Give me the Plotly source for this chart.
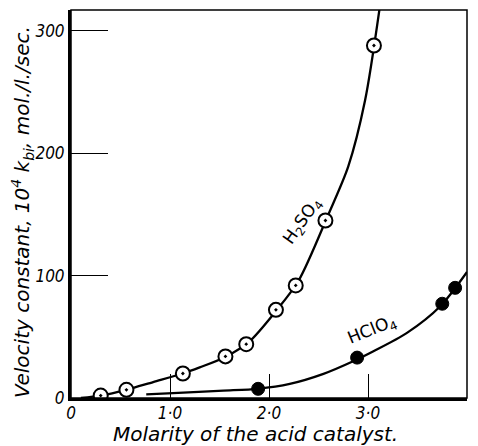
import plotly.graph_objects as go

# Data points
h2so4_x = [0.30, 0.56, 1.13, 1.56, 1.77, 2.07, 2.27, 2.57, 3.06]
h2so4_y = [2, 6.7, 20, 34, 44, 72, 92, 145, 288]

hclo4_x = [1.89, 2.89, 3.75, 3.88]
hclo4_y = [7.5, 33, 77, 90]

# Drawn smooth curves
h2so4_curve_x = [0.1, 0.3, 0.56, 0.83, 1.13, 1.3, 1.56, 1.8, 2.07, 2.3, 2.6, 2.8, 2.97, 3.12]
h2so4_curve_y = [0, 2, 6.7, 13, 20, 25, 33.5, 46, 71, 96, 150, 189, 243, 320]

hclo4_curve_x = [0.76, 1.03, 1.54, 1.885, 2.21, 2.55, 2.85, 3.05, 3.39, 3.73, 4.0]
hclo4_curve_y = [3, 4, 6, 7.5, 11.5, 19.7, 30, 38, 53, 75, 103]

x_tickvals = [0, 1, 2, 3, 4]
x_ticktext = ["0", "1·0", "2·0", "3·0", "4·0"]
y_tickvals = [0, 100, 200, 300]
y_ticktext = ["0", "100", "200", "300"]

FONT = "DejaVu Sans"
TICKFONT = "DejaVu Sans Condensed, DejaVu Sans"

# the page body adds an 8px offset; the figure is sized to compensate
OFF = 8
W, H = 478 - OFF, 446 - OFF
L, R, T, B = 71 - OFF, 11, 10 - OFF, 48
PW, PH = W - L - R, H - T - B


def px_x(win_x):
    return (win_x - OFF - L) / PW


def px_y(win_y):
    return (H - B - (win_y - OFF)) / PH


fig = go.Figure()
fig.add_trace(go.Scatter(x=h2so4_curve_x, y=h2so4_curve_y, mode="lines",
                         line=dict(color="black", width=2.3, shape="spline", smoothing=0.8),
                         hoverinfo="skip"))
fig.add_trace(go.Scatter(x=hclo4_curve_x, y=hclo4_curve_y, mode="lines",
                         line=dict(color="black", width=2.3, shape="spline", smoothing=0.8),
                         hoverinfo="skip"))
fig.add_trace(go.Scatter(x=h2so4_x, y=h2so4_y, mode="markers",
                         marker=dict(symbol="circle-dot", size=14, color="white",
                                     line=dict(color="black", width=2))))
fig.add_trace(go.Scatter(x=hclo4_x, y=hclo4_y, mode="markers",
                         marker=dict(symbol="circle", size=13, color="black",
                                     line=dict(color="black", width=1))))

fig.add_annotation(x=2.34, y=144, text="H<sub>2</sub>SO<sub>4</sub>", showarrow=False,
                   textangle=-55, font=dict(family=FONT, size=17, color="black"))
fig.add_annotation(x=3.04, y=55, text="HClO<sub>4</sub>", showarrow=False,
                   textangle=-22, font=dict(family=FONT, size=17, color="black"))

# axis titles
fig.add_annotation(xref="paper", yref="paper", x=px_x(255), y=px_y(434),
                   text="Molarity of the acid catalyst.", showarrow=False,
                   xanchor="center", yanchor="middle",
                   font=dict(family=FONT, size=20, color="black", style="italic"))
fig.add_annotation(xref="paper", yref="paper", x=px_x(23), y=px_y(212),
                   text="Velocity constant, 10<sup>4</sup> k<sub>bi</sub>, mol./l./sec.",
                   showarrow=False, textangle=-90,
                   xanchor="center", yanchor="middle",
                   font=dict(family=FONT, size=20, color="black", style="italic"))

# frame top/right
fig.add_shape(type="rect", xref="paper", yref="paper", x0=0, y0=0, x1=1, y1=1,
              line=dict(color="black", width=1.5))

fig.update_layout(
    width=W, height=H,
    margin=dict(l=L, r=R, t=T, b=B, autoexpand=False),
    paper_bgcolor="white", plot_bgcolor="white",
    showlegend=False,
    font=dict(family=FONT, color="black"),
    xaxis=dict(range=[0, 4], tickvals=x_tickvals, ticktext=x_ticktext,
               ticks="inside", ticklen=24, tickwidth=1.2, tickcolor="black",
               showline=True, linecolor="black", linewidth=3,
               showgrid=False, zeroline=False, automargin=False,
               ticklabelstandoff=-2,
               tickfont=dict(family=TICKFONT, size=17, style="italic")),
    yaxis=dict(range=[0, 317], tickvals=y_tickvals, ticktext=y_ticktext,
               ticks="inside", ticklen=37, tickwidth=1.2, tickcolor="black",
               showline=True, linecolor="black", linewidth=3,
               showgrid=False, zeroline=False, automargin=False,
               tickfont=dict(family=TICKFONT, size=17, style="italic")),
)

fig.write_html("out.html")
